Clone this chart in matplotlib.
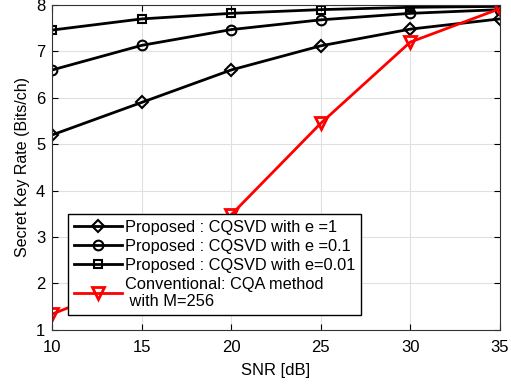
import numpy as np
import matplotlib.pyplot as plt

plt.rcParams['font.family'] = ['Liberation Sans', 'DejaVu Sans']

snr = [10, 15, 20, 25, 30, 35]
e1 = [5.2, 5.9, 6.6, 7.12, 7.48, 7.7]
e01 = [6.6, 7.13, 7.47, 7.68, 7.82, 7.9]
e001 = [7.46, 7.7, 7.82, 7.9, 7.95, 7.97]
cqa = [1.34, 2.1, 3.48, 5.45, 7.2, 7.92]

fig = plt.figure(figsize=(5.11, 3.84), dpi=100)
ax = fig.add_axes([0.102, 0.141, 0.876, 0.846])

ax.plot(snr, e1, 'k-D', lw=2, ms=6, mfc='none', mew=1.5, label='Proposed : CQSVD with e =1')
ax.plot(snr, e01, 'k-o', lw=2, ms=7, mfc='none', mew=1.5, label='Proposed : CQSVD with e =0.1')
ax.plot(snr, e001, 'k-s', lw=2, ms=6, mfc='none', mew=1.5, label='Proposed : CQSVD with e=0.01')
ax.plot(snr, cqa, 'r-v', lw=2, ms=9, mfc='none', mew=2,
        label='Conventional: CQA method\n with M=256')

ax.set_xlim(10, 35)
ax.set_ylim(1, 8)
ax.set_xticks([10, 15, 20, 25, 30, 35])
ax.set_yticks([1, 2, 3, 4, 5, 6, 7, 8])
ax.grid(True, color='#e0e0e0', lw=0.8)
ax.tick_params(direction='in', top=True, right=True, labelsize=12, length=4)
ax.tick_params(axis='x', pad=7)
ax.tick_params(axis='y', pad=5)
for s in ax.spines.values():
    s.set_color('#333333')
ax.set_xlabel('SNR [dB]', fontsize=12, labelpad=6)
ax.set_ylabel('Secret Key Rate (Bits/ch)', fontsize=11.5, labelpad=4)

leg = ax.legend(loc='upper left', bbox_to_anchor=(0.036, 0.357), borderaxespad=0,
                fontsize=11.8, fancybox=False, edgecolor='k', framealpha=1,
                handlelength=2.9, handletextpad=0.2, labelspacing=0.25, borderpad=0.35)
leg.get_frame().set_linewidth(1)

fig.savefig('out.png', dpi=100)
